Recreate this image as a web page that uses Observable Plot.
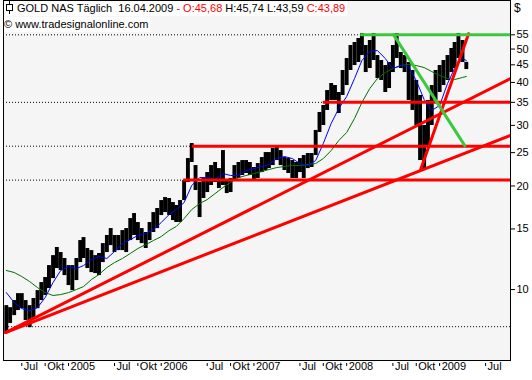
<!DOCTYPE html>
<html><head><meta charset="utf-8">
<script src="https://cdn.jsdelivr.net/npm/d3@7"></script>
<script src="https://cdn.jsdelivr.net/npm/@observablehq/plot@0.6"></script>
<style>
body{margin:0;background:#fff;}
#wrap{position:relative;width:532px;height:380px;font-family:"Liberation Sans",Arial,sans-serif;}
.hdr{position:absolute;left:4px;font-size:11px;line-height:15px;background:#fff;white-space:pre;color:#000;padding-right:2px;}
.red{color:#ff0000;}
#dollar{position:absolute;left:514px;top:1px;font-size:12px;}
</style></head><body>
<div id="wrap">
</div>
<script>
// ---- data ----
const months = ["2004-05","2004-06","2004-07","2004-08","2004-09","2004-10","2004-11","2004-12",
"2005-01","2005-02","2005-03","2005-04","2005-05","2005-06","2005-07","2005-08","2005-09","2005-10","2005-11","2005-12",
"2006-01","2006-02","2006-03","2006-04","2006-05","2006-06","2006-07","2006-08","2006-09","2006-10","2006-11","2006-12",
"2007-01","2007-02","2007-03","2007-04","2007-05","2007-06","2007-07","2007-08","2007-09","2007-10","2007-11","2007-12",
"2008-01","2008-02","2008-03","2008-04","2008-05","2008-06","2008-07","2008-08","2008-09","2008-10","2008-11","2008-12",
"2009-01","2009-02","2009-03","2009-04"];
// half-month bars (1st and 16th of each month)
const highs = [8.98,8.86,9.29,9.73,9.73,9.29,8.98,9.42,9.93,10.48,
10.84,11.74,12.55,13.25,12.81,12.31,11.74,11.74,12.31,13.88,
14.16,13.16,12.98,12.55,12.73,13.60,14.36,15.04,14.36,14.36,
14.84,15.04,16.08,16.63,15.66,15.04,14.65,15.66,16.74,17.20,
18.14,18.51,18.39,17.90,17.55,18.14,20.74,24.03,26.57,22.93,
20.47,21.02,21.88,22.93,23.40,22.47,25.35,20.74,21.02,22.93,
23.40,23.71,23.71,23.40,22.63,23.24,24.19,25.01,25.01,25.70,
26.22,25.35,24.19,24.03,23.71,23.40,24.03,24.52,24.85,24.85,
29.00,32.71,34.28,37.88,39.70,39.17,37.38,43.31,46.93,51.20,
52.24,53.66,55.5,51.20,52.94,55.5,47.88,46.31,44.78,45.69,
51.20,55.5,48.86,47.88,45.69,43.31,40.51,36.64,29.98,35.44,
39.17,43.31,44.78,46.31,47.88,50.18,52.24,55.5,52.94,45.74];
const lows = [7.50,7.97,8.40,8.69,8.80,8.13,7.75,8.24,8.80,9.29,
9.61,10.07,10.76,11.51,11.36,10.98,10.27,9.93,10.62,11.98,
12.31,11.51,11.20,11.13,10.98,11.98,12.81,13.42,12.81,12.98,
12.98,12.81,13.88,14.36,13.88,13.60,13.16,13.88,14.65,15.04,
16.41,16.74,16.41,15.87,15.66,15.66,18.14,20.47,23.40,19.40,
16.19,18.39,19.14,20.06,20.47,19.66,20.06,19.01,19.14,20.74,
21.02,21.45,21.74,21.45,20.74,21.02,21.88,22.18,22.47,22.93,
23.71,22.93,22.18,21.74,21.02,21.02,21.88,21.02,22.47,22.63,
24.52,28.61,29.98,33.15,35.44,35.44,32.49,36.64,39.17,43.31,
44.78,45.69,47.88,42.73,43.89,46.31,41.05,40.51,37.38,38.39,
42.73,46.93,43.89,42.73,35.44,33.15,29.98,23.71,22.18,26.22,
29.98,35.44,37.38,39.17,40.51,42.73,43.89,46.93,45.69,43.59];
// moving averages at the 1st of each month, plus the last day
const blueMA = [9.80,9.17,8.80,8.69,8.86,9.48,10.48,11.36,11.66,11.51,
11.74,12.22,12.47,12.31,12.90,13.60,13.97,14.36,14.55,14.94,
15.66,16.52,17.08,17.90,20.06,21.16,21.16,20.88,21.74,21.45,
21.45,22.18,22.47,22.78,23.09,24.03,24.36,24.03,23.24,22.93,
23.71,26.57,30.38,33.59,36.39,41.05,46.31,49.19,49.52,46.93,
43.89,44.78,44.48,40.51,35.68,33.15,34.28,39.70,43.89,46.93,46.31];
const greenMA = [11.36,11.21,10.91,10.55,10.13,9.80,9.61,9.67,9.80,10.00,
10.20,10.69,11.06,11.59,11.98,12.31,12.73,13.16,13.51,13.88,
14.26,14.84,15.25,16.08,17.08,17.78,18.26,19.01,19.80,20.47,
21.16,21.45,21.74,22.03,22.33,22.63,22.78,22.93,22.93,23.09,
23.24,24.03,25.35,27.11,28.61,31.42,34.97,38.39,41.05,42.73,
43.89,44.78,45.09,44.78,44.18,43.01,41.88,41.05,40.77,41.34,41.62];
const lastDay = "2009-04-16";
const xStart = "2004-04-20", xEnd = "2009-10-07";
// horizontal levels: value and start date of the solid part
const redLevels = [{v:35.0, from:"2007-10-01"},{v:26.1, from:"2006-05-03"},{v:20.8, from:"2006-03-30"}];
const greenLevel = {v:55.0, from:"2008-02-25"};
const bottomDotted = {v:7.8, from:"2004-05-10"};
// trend lines: [date, value] endpoints
const redTrends = [
  {id:"a", pts:[["2004-04-28",7.5],["2009-10-07",41.05]]},
  {id:"b", pts:[["2004-04-28",7.5],["2009-10-07",28.04]]},
  {id:"c", pts:[["2008-10-18",22.3],["2009-04-25",55.4]]}
];
const greenTrend = [["2008-07-04",55.0],["2009-04-10",26.2]];
const yTicks = [10,15,20,25,30,35,40,45,50,55];
const xTickDates = ["2004-07-01","2004-10-01","2005-01-01","2005-07-01","2005-10-01","2006-01-01",
"2006-07-01","2006-10-01","2007-01-01","2007-07-01","2007-10-01","2008-01-01","2008-07-01","2008-10-01",
"2009-01-01","2009-07-01"];

// ---- build tables ----
const D = s => new Date(s);
const barDates = months.flatMap(m => [m + "-01", m + "-16"]);
const bars = barDates.map((d, i) => ({date: D(d), low: lows[i], high: highs[i]}));
const maDates = months.map(m => m + "-01").concat([lastDay]);
const ma = maDates.map((d, i) => ({date: D(d), blue: blueMA[i], green: greenMA[i]}));
const dotted = [...redLevels, greenLevel].map(l => ({v: l.v, x1: D(xStart), x2: D(l.from)}))
  .concat([{v: bottomDotted.v, x1: D(bottomDotted.from), x2: D(xEnd)}]);
const redH = redLevels.map(l => ({v: l.v, x1: D(l.from), x2: D(xEnd)}));
const greenH = [{v: greenLevel.v, x1: D(greenLevel.from), x2: D(xEnd)}];
const redLines = redTrends.flatMap(t => t.pts.map(p => ({id: t.id, date: D(p[0]), v: p[1]})));
const greenLine = greenTrend.map(p => ({date: D(p[0]), v: p[1]}));
const ticks = xTickDates.map(D);
const fmt = d => d.getUTCMonth() === 0 ? String(d.getUTCFullYear()) : (d.getUTCMonth() === 6 ? "Jul" : "Okt");

const RED = "#ff0000", LGREEN = "#3cc83c";
const chart = Plot.plot({
  width: 532, height: 380,
  marginLeft: 3, marginRight: 22, marginTop: 0, marginBottom: 20,
  style: {background: "transparent", fontFamily: "Liberation Sans, Arial, sans-serif", fontSize: "11px", color: "#000", overflow: "visible"},
  x: {type: "utc", domain: [D(xStart), D(xEnd)]},
  y: {type: "log", domain: [6.22, 69.2]},
  marks: [
    Plot.frame({fill: "#f5f5f5", stroke: null}),
    Plot.ruleY(dotted, {y: "v", x1: "x1", x2: "x2", stroke: "#000", strokeWidth: 1, strokeDasharray: "1,2"}),
    Plot.ruleX(bars, {x: "date", y1: "low", y2: "high", stroke: "#000", strokeWidth: 3.9}),
    Plot.line(ma, {x: "date", y: "green", stroke: "#007000", strokeWidth: 1}),
    Plot.line(ma, {x: "date", y: "blue", stroke: "#0000ff", strokeWidth: 1}),
    Plot.ruleY(redH, {y: "v", x1: "x1", x2: "x2", stroke: RED, strokeWidth: 3}),
    Plot.line(redLines, {x: "date", y: "v", z: "id", stroke: RED, strokeWidth: 3, clip: true}),
    Plot.ruleY(greenH, {y: "v", x1: "x1", x2: "x2", stroke: LGREEN, strokeWidth: 3}),
    Plot.line(greenLine, {x: "date", y: "v", stroke: LGREEN, strokeWidth: 3}),
    Plot.frame({stroke: "#000", strokeWidth: 1}),
    Plot.axisY({anchor: "right", ticks: yTicks, tickSize: 4, tickPadding: 2, tickFormat: d => String(d), label: null}),
    Plot.axisX({ticks: ticks, tickSize: 0, tickPadding: 2, textAnchor: "start", dx: 2, tickFormat: fmt, label: null}),
    Plot.axisX({ticks: ticks, tickSize: 3, tickFormat: () => "", dy: 3, label: null})
  ]
});
const wrap = document.getElementById("wrap");
wrap.appendChild(chart);
const h1 = document.createElement("div");
h1.className = "hdr"; h1.style.top = "1px";
h1.innerHTML = '<svg width="11" height="13" style="vertical-align:-2px;margin-right:2px"><line x1="5.5" y1="0" x2="5.5" y2="13" stroke="#000"/><rect x="2.5" y="3.5" width="6" height="6" fill="#fff" stroke="#000"/></svg>GOLD NAS Täglich  16.04.2009 <span class="red">- O:45,68</span> H:45,74 L:43,59 <span class="red">C:43,89</span>';
wrap.appendChild(h1);
const h2 = document.createElement("div");
h2.className = "hdr"; h2.style.top = "17px";
h2.textContent = "© www.tradesignalonline.com";
wrap.appendChild(h2);
const dl = document.createElement("div");
dl.id = "dollar"; dl.textContent = "$";
wrap.appendChild(dl);
</script>
</body></html>
